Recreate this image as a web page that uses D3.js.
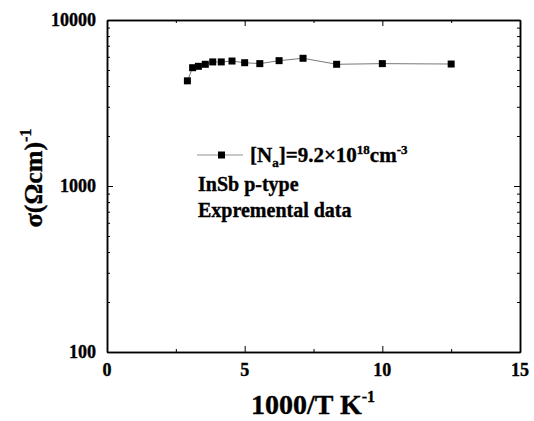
<!DOCTYPE html>
<html>
<head>
<meta charset="utf-8">
<script src="https://cdn.jsdelivr.net/npm/d3@7"></script>
<style>
  body { margin:0; background:#fff; }
  text { font-family:"Liberation Serif","Times New Roman",serif; font-weight:bold; fill:#000; stroke:#000; stroke-width:0.35px; }
</style>
</head>
<body>
<svg id="chart" width="534" height="421"></svg>
<script>
// 1000/T (K^-1) and conductivity (Ohm cm)^-1
var invT  = [2.92, 3.11, 3.32, 3.57, 3.84, 4.15, 4.54, 5.0, 5.55, 6.25, 7.12, 8.34, 10.0, 12.5];
var sigma = [4300, 5160, 5260, 5410, 5590, 5590, 5660, 5530, 5460, 5690, 5880, 5410, 5460, 5430];
var xTicks = [0, 5, 10, 15];
var xMinor = [2.5, 7.5, 12.5];
var yTicks = [100, 1000, 10000];

var svg = d3.select('#chart');
var m = {left:107, top:20, right:520, bottom:352};

var x = d3.scaleLinear().domain([0, 15]).range([m.left, m.right]);
var y = d3.scaleLog().domain([100, 10000]).range([m.bottom, m.top]);

var yMinor = [];
[100, 1000].forEach(function(d){ for (var k = 2; k <= 9; k++) yMinor.push(d*k); });

// axes, ticks pointing inward
svg.append('g').attr('transform','translate(0,'+m.bottom+')')
  .call(d3.axisBottom(x).tickValues(xTicks).tickSizeInner(-6).tickSizeOuter(0).tickFormat(''));
svg.append('g').attr('transform','translate(0,'+m.bottom+')')
  .call(d3.axisBottom(x).tickValues(xMinor).tickSizeInner(-3).tickSizeOuter(0).tickFormat(''));
svg.append('g').attr('transform','translate(0,'+m.top+')')
  .call(d3.axisTop(x).tickValues(xTicks).tickSizeInner(-6).tickSizeOuter(0).tickFormat(''));
svg.append('g').attr('transform','translate(0,'+m.top+')')
  .call(d3.axisTop(x).tickValues(xMinor).tickSizeInner(-3).tickSizeOuter(0).tickFormat(''));
svg.append('g').attr('transform','translate('+m.left+',0)')
  .call(d3.axisLeft(y).tickValues(yTicks).tickSizeInner(-6).tickSizeOuter(0).tickFormat(''));
svg.append('g').attr('transform','translate('+m.left+',0)')
  .call(d3.axisLeft(y).tickValues(yMinor).tickSizeInner(-3).tickSizeOuter(0).tickFormat(''));
svg.append('g').attr('transform','translate('+m.right+',0)')
  .call(d3.axisRight(y).tickValues(yTicks).tickSizeInner(-6).tickSizeOuter(0).tickFormat(''));
svg.append('g').attr('transform','translate('+m.right+',0)')
  .call(d3.axisRight(y).tickValues(yMinor).tickSizeInner(-3).tickSizeOuter(0).tickFormat(''));

svg.selectAll('.domain').attr('stroke','#000').attr('stroke-width',1.5);
svg.selectAll('.tick line').attr('stroke','#000').attr('stroke-width',1);

// tick labels
svg.append('g').selectAll('text').data(xTicks).enter().append('text')
  .attr('x', function(d){ return x(d); })
  .attr('y', m.bottom + 24)
  .attr('text-anchor','middle')
  .style('font-size','18px')
  .text(function(d){ return d; });

svg.append('g').selectAll('text').data(yTicks).enter().append('text')
  .attr('x', m.left - 11)
  .attr('y', function(d){ return y(d) + 6; })
  .attr('text-anchor','end')
  .style('font-size','18px')
  .text(function(d){ return d; });

// axis titles
var xt = svg.append('text')
  .attr('x', 313).attr('y', 414)
  .attr('text-anchor','middle')
  .style('font-size','28px');
xt.append('tspan').text('1000/T K');
xt.append('tspan').attr('dy',-12).style('font-size','16px').text('-1');

var yt = svg.append('text')
  .attr('transform','translate(42,178) rotate(-90)')
  .attr('text-anchor','middle')
  .style('font-size','26px');
yt.append('tspan').text('σ(Ωcm)');
yt.append('tspan').attr('dy',-11).style('font-size','16px').text('-1');

// data line and markers
var pts = invT.map(function(d,i){ return [d, sigma[i]]; });
svg.append('path').datum(pts)
  .attr('fill','none')
  .attr('stroke','#555')
  .attr('stroke-width',0.8)
  .attr('d', d3.line().x(function(d){ return x(d[0]); }).y(function(d){ return y(d[1]); }));

svg.append('g').selectAll('rect').data(pts).enter().append('rect')
  .attr('x', function(d){ return x(d[0]) - 3.5; })
  .attr('y', function(d){ return y(d[1]) - 3.5; })
  .attr('width',7).attr('height',7)
  .attr('fill','#000');

// legend
svg.append('line').attr('x1',197).attr('x2',243).attr('y1',155).attr('y2',155)
  .attr('stroke','#777').attr('stroke-width',0.8);
svg.append('rect').attr('x',218).attr('y',151.5).attr('width',7).attr('height',7).attr('fill','#000');

var lg = svg.append('text').attr('x',250).attr('y',162).style('font-size','21px');
lg.append('tspan').text('[N');
lg.append('tspan').attr('dy',5).style('font-size','13px').text('a');
lg.append('tspan').attr('dy',-5).text(']=9.2×10');
lg.append('tspan').attr('dy',-8).style('font-size','13px').text('18');
lg.append('tspan').attr('dy',8).text('cm');
lg.append('tspan').attr('dy',-8).style('font-size','13px').text('-3');

svg.append('text').attr('x',198).attr('y',191).style('font-size','20px').text('InSb p-type');
svg.append('text').attr('x',198).attr('y',217).style('font-size','20px').text('Expremental data');
</script>
</body>
</html>
